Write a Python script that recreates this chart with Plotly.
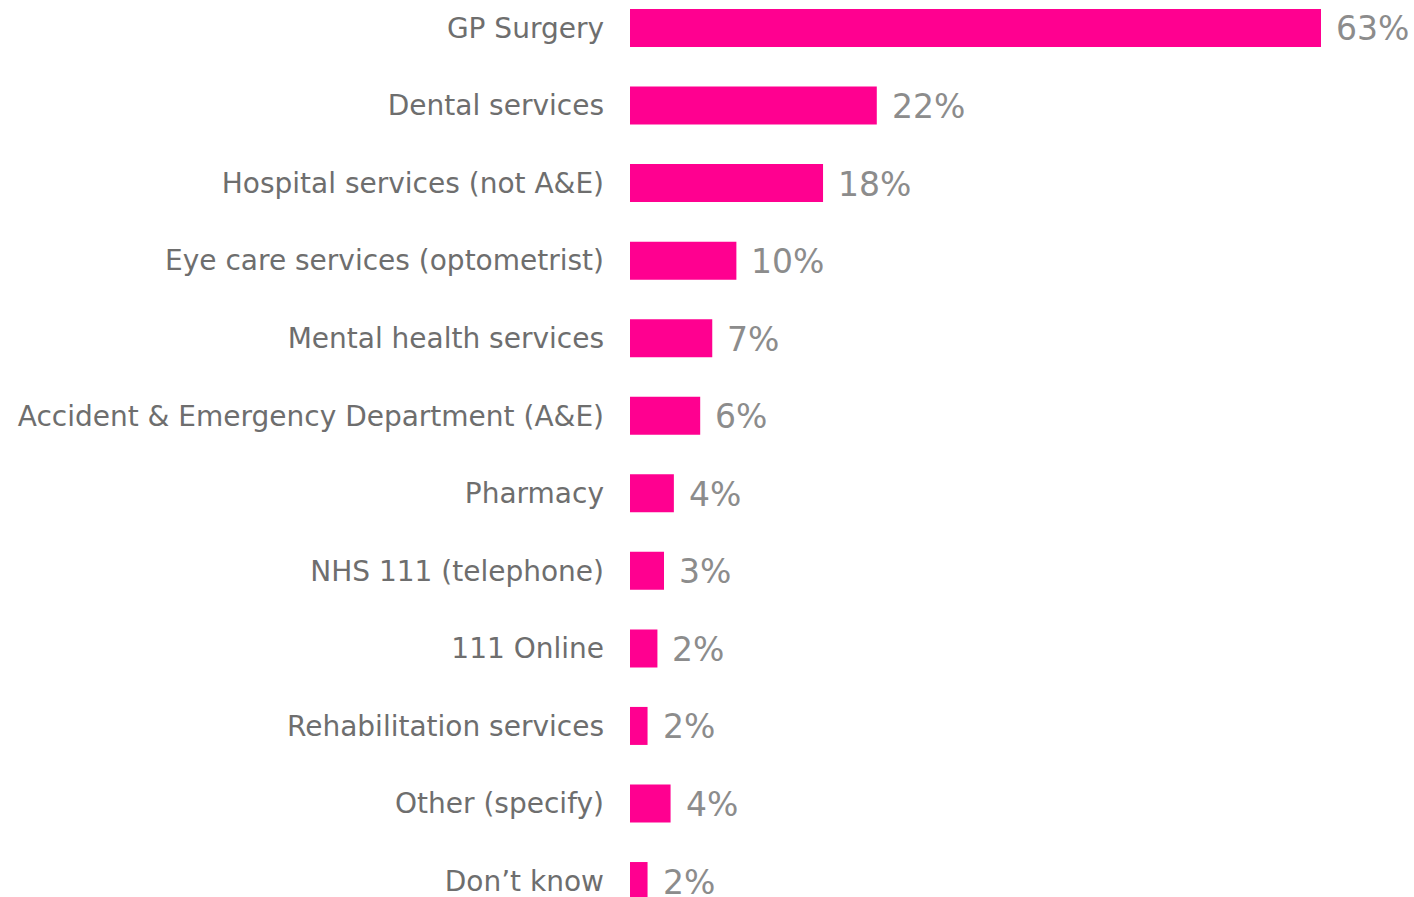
import plotly.graph_objects as go

categories = [
    "GP Surgery",
    "Dental services",
    "Hospital services (not A&E)",
    "Eye care services (optometrist)",
    "Mental health services",
    "Accident & Emergency Department (A&E)",
    "Pharmacy",
    "NHS 111 (telephone)",
    "111 Online",
    "Rehabilitation services",
    "Other (specify)",
    "Don\u2019t know",
]
values = [63.0, 22.5, 17.6, 9.7, 7.5, 6.4, 4.0, 3.1, 2.5, 1.6, 3.7, 1.6]
value_labels = ["63%", "22%", "18%", "10%", "7%", "6%", "4%", "3%", "2%", "2%", "4%", "2%"]

BAR = "#FF0090"
LABEL = "#6E6E6E"
PCT = "#8C8C8C"
FONT = "DejaVu Sans"

fig = go.Figure()
fig.add_trace(go.Bar(
    y=categories, x=values, orientation="h",
    marker=dict(color=BAR, line=dict(width=0)),
    width=0.49, hoverinfo="skip",
))

for cat, val, lab in zip(categories, values, value_labels):
    fig.add_annotation(
        x=val, y=cat, xref="x", yref="y", text=lab,
        showarrow=False, xanchor="left", yanchor="middle",
        xshift=13, yshift=-1,
        font=dict(family=FONT, size=33, color=PCT),
    )

fig.update_layout(
    width=1414, height=897,
    margin=dict(l=630, r=93, t=0, b=0),
    paper_bgcolor="white", plot_bgcolor="white",
    showlegend=False,
    font=dict(family=FONT, color=LABEL),
)
fig.update_xaxes(range=[0, 63], visible=False, showgrid=False, zeroline=False)
fig.update_yaxes(
    type="category", categoryorder="array", categoryarray=categories,
    range=[11.206, -0.361], autorange=False,
    showgrid=False, zeroline=False, showline=False,
    tickfont=dict(family=FONT, size=28, color=LABEL),
    ticks="", ticklabelstandoff=25,
)

fig.write_html(
    "out.html",
    config={"displayModeBar": False},
    post_script="document.body.style.margin='0';window.dispatchEvent(new Event('resize'));",
)
